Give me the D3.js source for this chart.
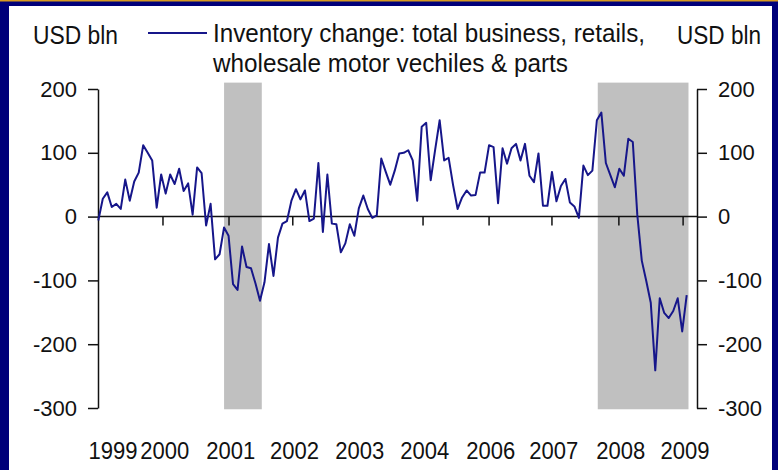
<!DOCTYPE html>
<html>
<head>
<meta charset="utf-8">
<script src="https://cdn.jsdelivr.net/npm/d3@7"></script>
<style>
  body { margin: 0; background: #fff; }
  text { font-family: "Liberation Sans", Arial, sans-serif; fill: #111; }
</style>
</head>
<body>
<div id="chart"></div>
<script>
// monthly inventory change, USD bln
const values = [
  -6, 28, 38, 15, 20, 12, 58, 25, 55, 69,
  112, 100, 88, 14, 66, 36, 66, 51, 75, 40,
  52, 3, 77, 68, -14, 20, -67, -59, -17, -30,
  -106, -115, -47, -79, -81, -105, -132, -103, -43, -93,
  -33, -11, -7, 25, 43, 27, 41, -7, -3, 84,
  -24, 66, -11, -12, -56, -42, -12, -30, 13, 33,
  12, -2, 2, 91, 70, 50, 72, 99, 100, 104,
  88, 25, 141, 147, 57, 105, 151, 88, 92, 49,
  12, 30, 41, 33, 34, 69, 69, 112, 109, 21,
  107, 83, 107, 114, 88, 114, 64, 54, 99, 17,
  17, 70, 24, 48, 59, 22, 16, -2, 80, 65,
  72, 151, 163, 84, 65, 46, 75, 64, 122, 117,
  3, -69, -101, -135, -241, -128, -151, -159, -148, -128,
  -180, -123
];
// recession bands, in month index
const recessions = [[28, 36.4], [111.2, 131.4]];
// x tick positions (month index) and year labels
const xTicks = [14.4, 29.1, 43.3, 72.3, 87, 101, 115.9, 130.2];
const yearLabels = ["1999", "2000", "2001", "2002", "2003", "2004", "2006", "2007", "2008", "2009"];
const yearPos = [3.3, 14.8, 29.5, 43.7, 58.2, 72.7, 87.4, 101.4, 116.3, 130.6];
const yTicks = [-300, -200, -100, 0, 100, 200];

const W = 778, H = 470;
const svg = d3.select("#chart").append("svg")
  .attr("width", W).attr("height", H);

// squeeze a text to a given width (the original font is narrow)
function fit(sel, w) {
  sel.attr("textLength", w).attr("lengthAdjust", "spacingAndGlyphs");
  return sel;
}

// navy frame with a thin gold rim on top
svg.append("rect").attr("width", W).attr("height", H).attr("fill", "#00007a");
svg.append("rect").attr("width", W).attr("height", 1.5).attr("fill", "#d89a20");
svg.append("rect").attr("x", 9).attr("y", 6).attr("width", W - 15).attr("height", H - 6).attr("fill", "#fff");

const x = d3.scaleLinear().domain([0, values.length - 1]).range([98.3, 686.7]);
const y = d3.scaleLinear().domain([-300, 200]).range([408, 89]);

// shaded recessions
svg.selectAll(".rec")
  .data(recessions)
  .join("rect")
  .attr("class", "rec")
  .attr("x", d => x(d[0]))
  .attr("width", d => x(d[1]) - x(d[0]))
  .attr("y", y(210))
  .attr("height", y(-302) - y(210))
  .attr("fill", "#c0c0c0");

// zero line with ticks pointing down
svg.append("line")
  .attr("x1", 98).attr("x2", 697)
  .attr("y1", y(0)).attr("y2", y(0))
  .attr("stroke", "#111").attr("stroke-width", 1.5);

svg.selectAll(".xt")
  .data(xTicks)
  .join("line")
  .attr("class", "xt")
  .attr("x1", d => x(d)).attr("x2", d => x(d))
  .attr("y1", y(0)).attr("y2", y(0) + 9)
  .attr("stroke", "#111").attr("stroke-width", 1.5);

svg.selectAll(".yl")
  .data(yearLabels)
  .join("text")
  .attr("class", "yl")
  .attr("x", (d, i) => x(yearPos[i]))
  .attr("y", 459)
  .attr("text-anchor", "middle")
  .attr("font-size", 24)
  .text(d => d)
  .call(fit, 49);

// left and right axes
const fmt = d => String(d);
const left = svg.append("g")
  .attr("transform", "translate(98,0)")
  .call(d3.axisLeft(y).tickValues(yTicks).tickSize(10).tickSizeOuter(0).tickPadding(11).tickFormat(fmt));
const right = svg.append("g")
  .attr("transform", "translate(697,0)")
  .call(d3.axisRight(y).tickValues(yTicks).tickSize(10).tickSizeOuter(0).tickPadding(11).tickFormat(fmt));
[left, right].forEach(g => {
  g.selectAll("path, line").attr("stroke", "#111").attr("stroke-width", 1.5);
  g.selectAll("text").attr("font-size", 22)
    .attr("font-family", "Liberation Sans, Arial, sans-serif").attr("fill", "#111");
});

// the series
svg.append("path")
  .datum(values)
  .attr("fill", "none")
  .attr("stroke", "#16168a")
  .attr("stroke-width", 2)
  .attr("stroke-linejoin", "round")
  .attr("d", d3.line().x((d, i) => x(i)).y(d => y(d)));

// unit labels and legend
svg.append("text").attr("x", 33).attr("y", 44).attr("font-size", 25).text("USD bln").call(fit, 85);
svg.append("text").attr("x", 677).attr("y", 44).attr("font-size", 25).text("USD bln").call(fit, 84);

svg.append("line")
  .attr("x1", 148).attr("x2", 207).attr("y1", 33).attr("y2", 33)
  .attr("stroke", "#16168a").attr("stroke-width", 2);
svg.append("text").attr("x", 213).attr("y", 42).attr("font-size", 25)
  .text("Inventory change: total business, retails,").call(fit, 432);
svg.append("text").attr("x", 213).attr("y", 72).attr("font-size", 25)
  .text("wholesale motor vechiles & parts").call(fit, 355);
</script>
</body>
</html>
